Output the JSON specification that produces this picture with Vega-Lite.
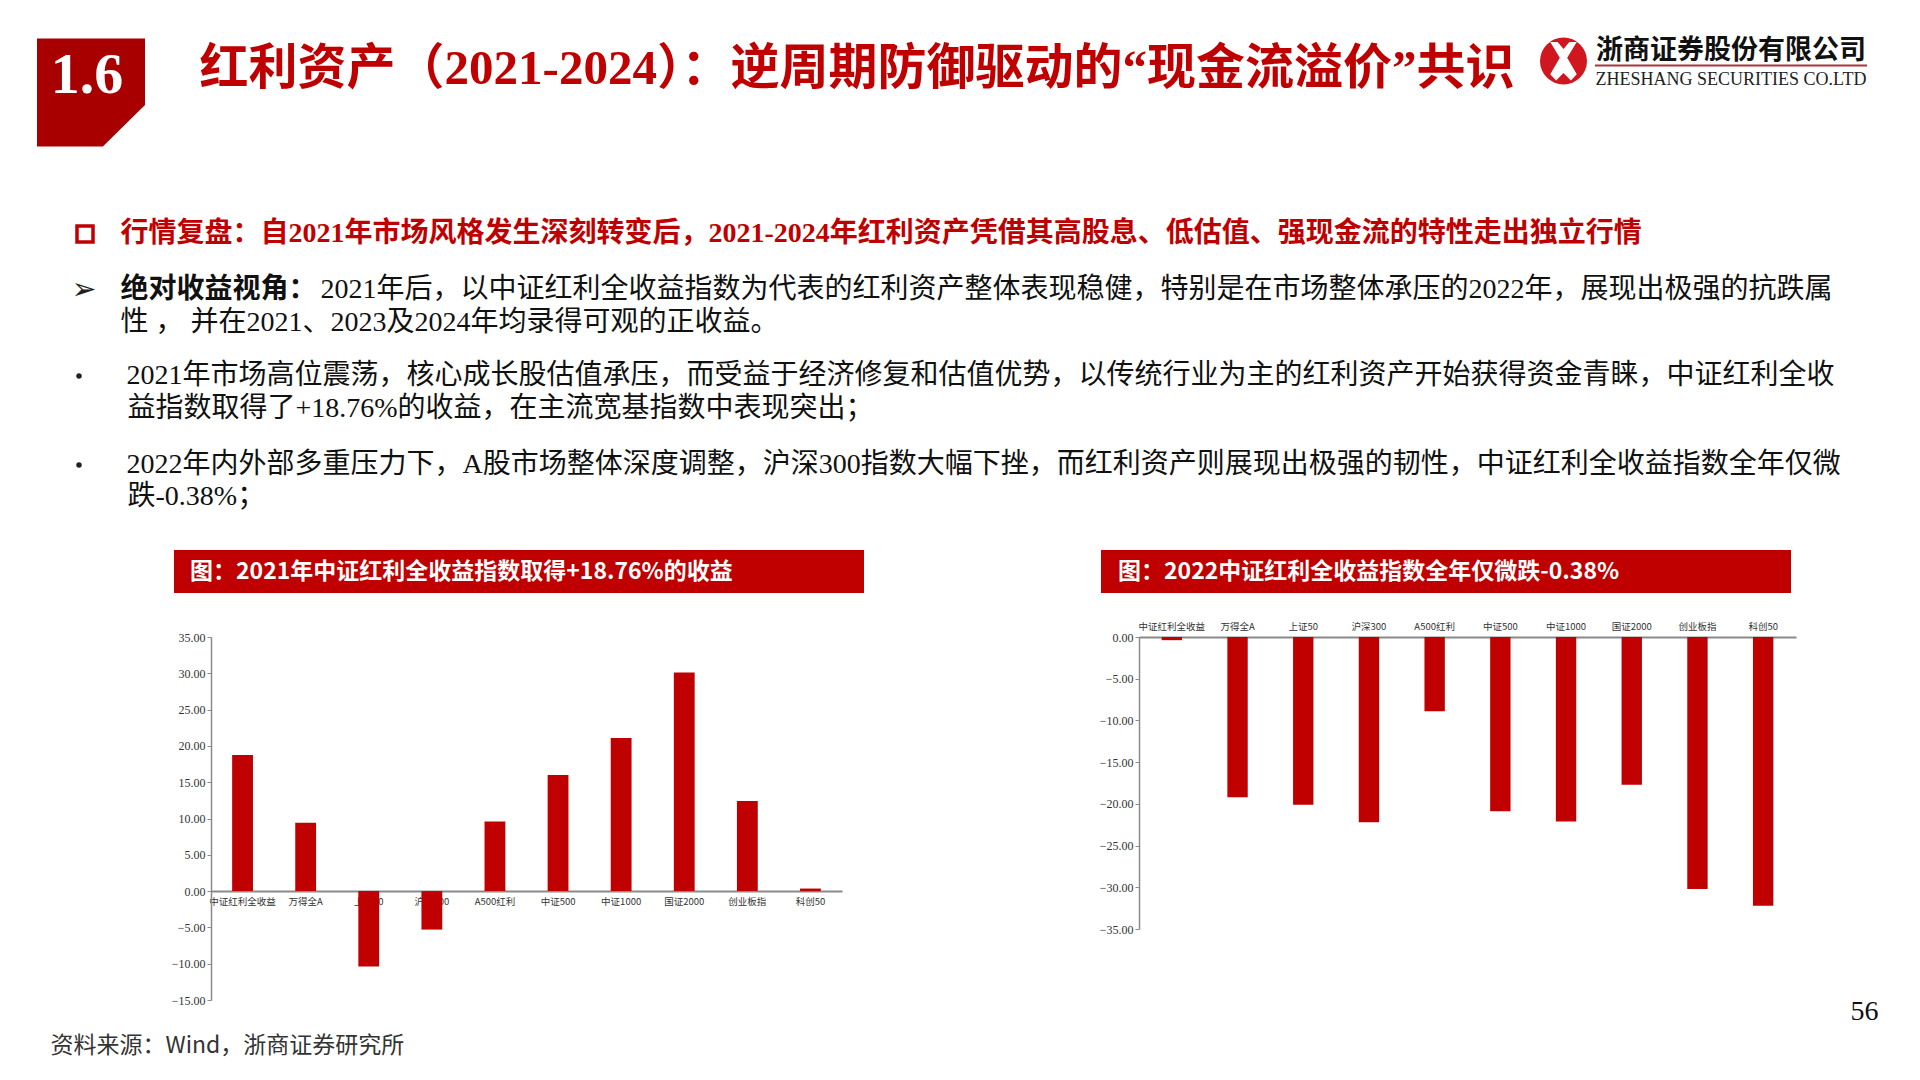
{
  "$schema": "https://vega.github.io/schema/vega-lite/v6.json",
  "padding": 0,
  "background": "#ffffff",
  "spacing": 0,
  "config": {
    "view": {"stroke": null},
    "font": "Noto Sans CJK SC"
  },
  "datasets": {
    "ret2021": [
      {"index": "中证红利全收益", "ret": 18.76},
      {"index": "万得全A", "ret": 9.4},
      {"index": "上证50", "ret": -10.4},
      {"index": "沪深300", "ret": -5.3},
      {"index": "A500红利", "ret": 9.6},
      {"index": "中证500", "ret": 16.0},
      {"index": "中证1000", "ret": 21.1},
      {"index": "国证2000", "ret": 30.1},
      {"index": "创业板指", "ret": 12.4},
      {"index": "科创50", "ret": 0.35}
    ],
    "ret2022": [
      {"index": "中证红利全收益", "ret": -0.38},
      {"index": "万得全A", "ret": -19.2},
      {"index": "上证50", "ret": -20.1},
      {"index": "沪深300", "ret": -22.2},
      {"index": "A500红利", "ret": -8.9},
      {"index": "中证500", "ret": -20.9},
      {"index": "中证1000", "ret": -22.1},
      {"index": "国证2000", "ret": -17.7},
      {"index": "创业板指", "ret": -30.2},
      {"index": "科创50", "ret": -32.2}
    ]
  },
  "vconcat": [
    {"width": 1, "height": 34, "data": {"values": []}, "mark": "point"},
    {
      "bounds": "flush", "spacing": 0,
      "hconcat": [
        {"width": 37, "height": 1, "data": {"values": []}, "mark": "point"},
        {
          "width": 108, "height": 117,
          "data": {"values": [{"section": "1.6"}]},
          "layer": [
            {"mark": {"type": "point", "shape": "M -1 -1 L 1 -1 L 1 0.23 L 0.22 1 L -1 1 Z", "size": 11664, "filled": true, "color": "#a80000", "opacity": 1, "strokeWidth": 0}},
            {"mark": {"type": "text", "font": "Liberation Serif", "fontWeight": "bold", "fontSize": 58, "color": "#ffffff", "dx": -4, "dy": -17}, "encoding": {"text": {"field": "section"}}}
          ]
        },
        {"width": 61, "height": 1, "data": {"values": []}, "mark": "point"},
        {
          "width": 1302, "height": 70,
          "data": {"values": [{"t": "红利资产（2021-2024）：逆周期防御驱动的“现金流溢价”共识"}]},
          "mark": {"type": "text", "font": "Liberation Serif, Noto Sans CJK SC", "fontWeight": "bold", "fontSize": 49, "color": "#c00000"},
          "encoding": {"text": {"field": "t"}}
        },
        {"width": 29, "height": 1, "data": {"values": []}, "mark": "point"},
        {
          "width": 53, "height": 54,
          "data": {"values": [{"logo": "浙商证券"}]},
          "layer": [
            {"mark": {"type": "point", "shape": "circle", "size": 2206, "filled": true, "color": "#d0161e", "opacity": 1, "strokeWidth": 0}},
            {"mark": {"type": "point", "shape": "M -0.5 -0.72 L -0.22 -0.72 L 0 -0.45 L 0.22 -0.72 L 0.5 -0.72 L 0.14 -0.12 L 0.5 0.5 L 0.28 0.74 L 0 0.45 L -0.28 0.74 L -0.5 0.5 L -0.14 -0.12 Z", "size": 2809, "filled": true, "color": "#ffffff", "opacity": 1, "strokeWidth": 0}}
          ]
        },
        {"width": 5, "height": 1, "data": {"values": []}, "mark": "point"},
        {
          "width": 272, "height": 63,
          "data": {"values": [{"cn": "浙商证券股份有限公司", "en": "ZHESHANG SECURITIES CO.LTD"}]},
          "layer": [
            {"mark": {"type": "text", "baseline": "bottom", "dy": -1, "fontSize": 27, "fontWeight": "bold", "color": "#111111", "font": "Noto Sans CJK SC"}, "encoding": {"text": {"field": "cn"}}},
            {"mark": {"type": "rule", "color": "#a8343a", "strokeWidth": 2}, "encoding": {"y": {"datum": 0, "type": "quantitative", "scale": {"domain": [-1, 1]}, "axis": null}}},
            {"mark": {"type": "text", "baseline": "top", "dy": 5, "fontSize": 18, "font": "Liberation Serif", "color": "#222222"}, "encoding": {"text": {"field": "en"}}}
          ]
        }
      ]
    },
    {"width": 1, "height": 66, "data": {"values": []}, "mark": "point"},
    {
      "bounds": "flush", "spacing": 0,
      "hconcat": [
        {"width": 75, "height": 34, "data": {"values": []}, "mark": "point"},
        {"width": 20, "height": 34, "data": {"values": [{"b": "box"}]}, "mark": {"type": "point", "shape": "square", "filled": false, "color": "#c00000", "strokeWidth": 3.5, "size": 256, "opacity": 1}},
        {"width": 25, "height": 1, "data": {"values": []}, "mark": "point"},
        {"width": 1, "height": 34, "data": {"values": [{"t": "行情复盘：自2021年市场风格发生深刻转变后，2021-2024年红利资产凭借其高股息、低估值、强现金流的特性走出独立行情"}]}, "mark": {"type": "text", "align": "left", "fontSize": 28, "fontWeight": "bold", "color": "#c00000", "font": "Liberation Serif, Noto Sans CJK SC"}, "encoding": {"text": {"field": "t"}}}
      ]
    },
    {"width": 1, "height": 22, "data": {"values": []}, "mark": "point"},
    {
      "bounds": "flush", "spacing": 0,
      "hconcat": [
        {"width": 75, "height": 34, "data": {"values": []}, "mark": "point"},
        {"width": 18, "height": 34, "data": {"values": [{"m": "➢"}]}, "mark": {"type": "text", "fontSize": 30, "font": "DejaVu Sans", "color": "#222222"}, "encoding": {"text": {"field": "m"}}},
        {"width": 27, "height": 1, "data": {"values": []}, "mark": "point"},
        {"width": 1, "height": 34, "data": {"values": [{"t": "绝对收益视角："}]}, "mark": {"type": "text", "align": "left", "fontSize": 28, "fontWeight": "bold", "color": "#111111", "font": "Liberation Serif, Noto Sans CJK SC"}, "encoding": {"text": {"field": "t"}}},
        {"width": 199, "height": 1, "data": {"values": []}, "mark": "point"},
        {"width": 1, "height": 34, "data": {"values": [{"t": "2021年后，以中证红利全收益指数为代表的红利资产整体表现稳健，特别是在市场整体承压的2022年，展现出极强的抗跌属"}]}, "mark": {"type": "text", "align": "left", "fontSize": 28, "color": "#111111", "font": "Liberation Serif, Noto Sans CJK SC"}, "encoding": {"text": {"field": "t"}}}
      ]
    },
    {
      "bounds": "flush", "spacing": 0,
      "hconcat": [
        {"width": 120, "height": 32, "data": {"values": []}, "mark": "point"},
        {"width": 1, "height": 32, "data": {"values": [{"t": "性 ， 并在2021、2023及2024年均录得可观的正收益。"}]}, "mark": {"type": "text", "align": "left", "fontSize": 28, "color": "#111111", "font": "Liberation Serif, Noto Sans CJK SC"}, "encoding": {"text": {"field": "t"}}}
      ]
    },
    {"width": 1, "height": 20, "data": {"values": []}, "mark": "point"},
    {
      "bounds": "flush", "spacing": 0,
      "hconcat": [
        {"width": 75, "height": 34, "data": {"values": []}, "mark": "point"},
        {"width": 8, "height": 34, "data": {"values": [{"b": "dot"}]}, "mark": {"type": "point", "shape": "circle", "filled": true, "color": "#222222", "size": 30, "opacity": 1}},
        {"width": 43, "height": 1, "data": {"values": []}, "mark": "point"},
        {"width": 1, "height": 34, "data": {"values": [{"t": "2021年市场高位震荡，核心成长股估值承压，而受益于经济修复和估值优势，以传统行业为主的红利资产开始获得资金青睐，中证红利全收"}]}, "mark": {"type": "text", "align": "left", "fontSize": 28, "color": "#111111", "font": "Liberation Serif, Noto Sans CJK SC"}, "encoding": {"text": {"field": "t"}}}
      ]
    },
    {
      "bounds": "flush", "spacing": 0,
      "hconcat": [
        {"width": 127, "height": 32, "data": {"values": []}, "mark": "point"},
        {"width": 1, "height": 32, "data": {"values": [{"t": "益指数取得了+18.76%的收益，在主流宽基指数中表现突出；"}]}, "mark": {"type": "text", "align": "left", "fontSize": 28, "color": "#111111", "font": "Liberation Serif, Noto Sans CJK SC"}, "encoding": {"text": {"field": "t"}}}
      ]
    },
    {"width": 1, "height": 23, "data": {"values": []}, "mark": "point"},
    {
      "bounds": "flush", "spacing": 0,
      "hconcat": [
        {"width": 75, "height": 34, "data": {"values": []}, "mark": "point"},
        {"width": 8, "height": 34, "data": {"values": [{"b": "dot"}]}, "mark": {"type": "point", "shape": "circle", "filled": true, "color": "#222222", "size": 30, "opacity": 1}},
        {"width": 43, "height": 1, "data": {"values": []}, "mark": "point"},
        {"width": 1, "height": 34, "data": {"values": [{"t": "2022年内外部多重压力下，A股市场整体深度调整，沪深300指数大幅下挫，而红利资产则展现出极强的韧性，中证红利全收益指数全年仅微"}]}, "mark": {"type": "text", "align": "left", "fontSize": 28, "color": "#111111", "font": "Liberation Serif, Noto Sans CJK SC"}, "encoding": {"text": {"field": "t"}}}
      ]
    },
    {
      "bounds": "flush", "spacing": 0,
      "hconcat": [
        {"width": 127, "height": 30, "data": {"values": []}, "mark": "point"},
        {"width": 1, "height": 30, "data": {"values": [{"t": "跌-0.38%；"}]}, "mark": {"type": "text", "align": "left", "fontSize": 28, "color": "#111111", "font": "Liberation Serif, Noto Sans CJK SC"}, "encoding": {"text": {"field": "t"}}}
      ]
    },
    {"width": 1, "height": 38, "data": {"values": []}, "mark": "point"},
    {
      "bounds": "flush", "spacing": 0,
      "hconcat": [
        {"width": 174, "height": 71, "data": {"values": []}, "mark": "point"},
        {"width": 690, "height": 43, "view": {"fill": "#c00000", "stroke": null}, "data": {"values": [{"t": "图：2021年中证红利全收益指数取得+18.76%的收益"}]}, "mark": {"type": "text", "align": "left", "dx": -329, "fontSize": 23, "fontWeight": "bold", "color": "#ffffff", "font": "Noto Sans CJK SC"}, "encoding": {"text": {"field": "t"}}},
        {"width": 237, "height": 1, "data": {"values": []}, "mark": "point"},
        {"width": 690, "height": 43, "view": {"fill": "#c00000", "stroke": null}, "data": {"values": [{"t": "图：2022中证红利全收益指数全年仅微跌-0.38%"}]}, "mark": {"type": "text", "align": "left", "dx": -328, "fontSize": 23, "fontWeight": "bold", "color": "#ffffff", "font": "Noto Sans CJK SC"}, "encoding": {"text": {"field": "t"}}}
      ]
    },
    {
      "bounds": "flush", "spacing": 0,
      "hconcat": [
        {"width": 211, "height": 1, "data": {"values": []}, "mark": "point"},
        {
          "width": 631, "height": 363,
          "data": {"name": "ret2021"},
          "mark": {"type": "bar", "color": "#c00000"},
          "encoding": {
            "x": {
              "field": "index", "type": "nominal", "sort": null,
              "scale": {"paddingInner": 0.67, "paddingOuter": 0.335},
              "axis": {"title": null, "orient": "bottom", "offset": -108.9, "domainColor": "#8a8a8a", "domainWidth": 2, "ticks": false, "labelPadding": 5, "labelAngle": 0, "labelFontSize": 9.5, "labelColor": "#333333", "labelFont": "Noto Sans CJK SC", "labelOverlap": false}
            },
            "y": {
              "field": "ret", "type": "quantitative",
              "scale": {"domain": [-15, 35], "nice": false},
              "axis": {"title": null, "values": [-15, -10, -5, 0, 5, 10, 15, 20, 25, 30, 35], "format": ".2f", "grid": false, "domainColor": "#8a8a8a", "domainWidth": 1.5, "tickColor": "#8a8a8a", "tickSize": 4, "labelFont": "Liberation Serif", "labelFontSize": 12, "labelColor": "#333333", "labelPadding": 2}
            }
          }
        },
        {"width": 297, "height": 1, "data": {"values": []}, "mark": "point"},
        {
          "width": 657, "height": 292,
          "data": {"name": "ret2022"},
          "mark": {"type": "bar", "color": "#c00000"},
          "encoding": {
            "x": {
              "field": "index", "type": "nominal", "sort": null,
              "scale": {"paddingInner": 0.69, "paddingOuter": 0.345},
              "axis": {"title": null, "orient": "top", "domainColor": "#8a8a8a", "domainWidth": 2, "ticks": false, "tickSize": 0, "labelPadding": 6, "labelAngle": 0, "labelFontSize": 9.5, "labelColor": "#333333", "labelFont": "Noto Sans CJK SC", "labelOverlap": false}
            },
            "y": {
              "field": "ret", "type": "quantitative",
              "scale": {"domain": [-35, 0], "nice": false},
              "axis": {"title": null, "values": [-35, -30, -25, -20, -15, -10, -5, 0], "format": ".2f", "grid": false, "domainColor": "#8a8a8a", "domainWidth": 1.5, "tickColor": "#8a8a8a", "tickSize": 4, "labelFont": "Liberation Serif", "labelFontSize": 12, "labelColor": "#333333", "labelPadding": 2}
            }
          }
        },
        {"width": 54, "height": 1, "data": {"values": []}, "mark": "point"},
        {
          "width": 1, "height": 383,
          "data": {"values": [{"p": "56"}]},
          "mark": {"type": "text", "align": "left", "baseline": "alphabetic", "font": "Liberation Serif", "fontSize": 28, "color": "#111111"},
          "encoding": {
            "text": {"field": "p"},
            "y": {"datum": 0, "type": "quantitative", "scale": {"domain": [0, 1]}, "axis": null}
          }
        }
      ]
    },
    {
      "bounds": "flush", "spacing": 0,
      "hconcat": [
        {"width": 50, "height": 1, "data": {"values": []}, "mark": "point"},
        {"width": 1, "height": 40, "data": {"values": [{"t": "资料来源：Wind，浙商证券研究所"}]}, "mark": {"type": "text", "align": "left", "fontSize": 23, "color": "#333333", "font": "Noto Sans CJK SC"}, "encoding": {"text": {"field": "t"}}}
      ]
    }
  ]
}
